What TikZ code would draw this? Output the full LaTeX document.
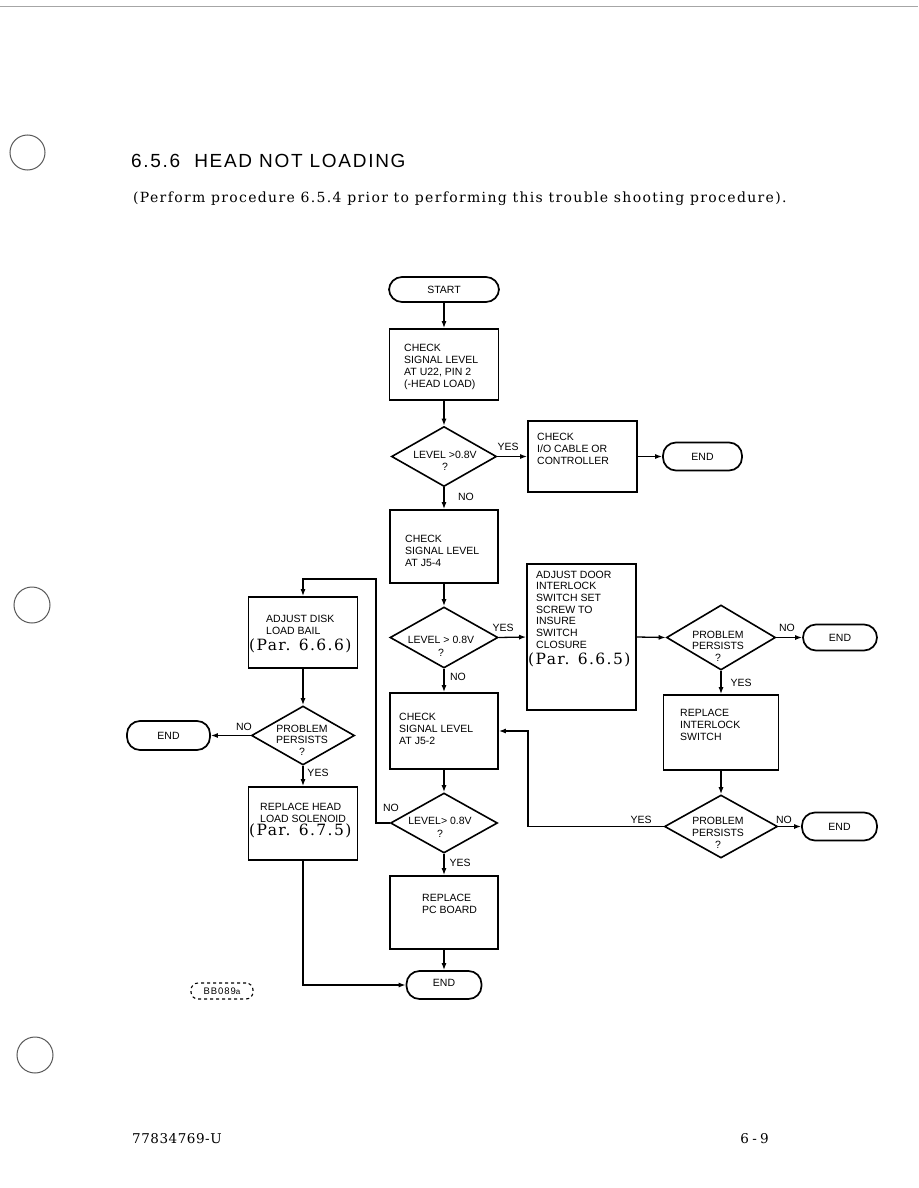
\documentclass[tikz,border=0pt]{standalone}
\usepackage{fontspec}
\usetikzlibrary{shapes.geometric,arrows.meta}
\setmainfont{DejaVu Serif}
\newfontfamily\fsans{Liberation Sans}
\newfontfamily\ftitle[LetterSpace=9]{Liberation Sans}
\newfontfamily\ftag[LetterSpace=10]{Liberation Sans}
\newfontfamily\fpar[LetterSpace=9]{DejaVu Serif}
\newfontfamily\fsub[LetterSpace=9.5]{DejaVu Serif}
\newfontfamily\fpg[LetterSpace=4]{DejaVu Serif}
\newfontfamily\fpgw[LetterSpace=25]{DejaVu Serif}
\tikzset{
 box/.style={draw, line width=1.7pt, inner sep=0pt, rectangle},
 term/.style={draw, line width=1.7pt, inner sep=0pt, rounded corners=13pt, font=\fsans\fontsize{10.5}{12}\selectfont},
 dia/.style={draw, diamond, line width=1.6pt, inner sep=0pt},
 txt/.style={font=\fsans\fontsize{10.5}{12}\selectfont, inner sep=0pt, align=left, anchor=north west},
 lbl/.style={font=\fsans\fontsize{10.5}{12}\selectfont, inner sep=0pt, anchor=base},
 arr/.style={line width=1.3pt, -{Latex[length=7pt,width=5pt]}},
 partxt/.style={font=\fpar\fontsize{15.5}{17}\selectfont, inner sep=0pt, anchor=base west},
 hole/.style={draw=black!65, line width=1pt},
}
\begin{document}
\begin{tikzpicture}[x=1pt,y=-1pt]
\useasboundingbox (0,0) rectangle (918,1188);
\fill[white] (0,0) rectangle (918,1188);
\draw[gray!70, line width=0.9pt] (0,6) -- (918,6);
\draw[hole] (27.5,152.5) circle (17.5pt);
\draw[hole] (32,605) circle (18pt);
\draw[hole] (35,1055) circle (18pt);
% heading
\node[font=\ftitle\fontsize{19}{21}\selectfont, anchor=base west, inner sep=0pt] (title) at (131,167) {6.5.6\ \ HEAD NOT LOADING};
\node[font=\fsub\fontsize{14}{16}\selectfont, anchor=base west, inner sep=0pt] (sub) at (133,202) {(Perform procedure 6.5.4 prior to performing this trouble shooting procedure).};
% centre column
\node[term, minimum width=110pt, minimum height=25pt] (start) at (444,289.5) {START};
\node[box, minimum width=109pt, minimum height=71pt] (b1) at (444,364.5) {};
\node[txt] (t1) at (404,343.5) {CHECK\\SIGNAL LEVEL\\AT U22, PIN 2\\(-HEAD LOAD)};
\node[dia, minimum width=105pt, minimum height=60pt] (d1) at (444,456.5) {};
\node[txt, align=center, anchor=north, font=\fsans\fontsize{10.5}{12.5}\selectfont] (td1) at (445,450.5) {LEVEL >0.8V\\?};
\node[lbl] (y1) at (508,450) {YES};
\node[box, minimum width=109pt, minimum height=71pt] (b2) at (582.5,456.5) {};
\node[txt] (t2) at (537,432.5) {CHECK\\I/O CABLE OR\\CONTROLLER};
\node[term, minimum width=79pt, minimum height=28pt] (e1) at (702.5,456.5) {END};
\node[lbl] (n1) at (466,500) {NO};
\node[box, minimum width=108pt, minimum height=73pt] (b3) at (444,546.5) {};
\node[txt] (t3) at (405,534.5) {CHECK\\SIGNAL LEVEL\\AT J5-4};
\node[dia, minimum width=108pt, minimum height=61pt] (d2) at (444,637.5) {};
\node[txt, align=center, anchor=north, font=\fsans\fontsize{10.5}{13}\selectfont] (td2) at (441,635.5) {LEVEL > 0.8V\\?};
\node[lbl] (y2) at (503,631) {YES};
\node[lbl] (n2) at (458,680) {NO};
\node[box, minimum width=109pt, minimum height=146pt] (b4) at (581.5,637) {};
\node[txt, font=\fsans\fontsize{10.5}{11.7}\selectfont] (t4) at (536,570.5) {ADJUST DOOR\\INTERLOCK\\SWITCH SET\\SCREW TO\\INSURE\\SWITCH\\CLOSURE};
\node[partxt] (p4) at (528,664) {(Par. 6.6.5)};
\node[dia, minimum width=109pt, minimum height=65pt] (d3) at (721,637.5) {};
\node[txt, align=center, anchor=north, font=\fsans\fontsize{10.5}{11.5}\selectfont] (td3) at (718,630.5) {PROBLEM\\PERSISTS\\?};
\node[lbl] (n3) at (787,631) {NO};
\node[term, minimum width=74pt, minimum height=26pt] (e2) at (840,637.5) {END};
\node[lbl] (y3) at (741,686) {YES};
\node[box, minimum width=115pt, minimum height=75pt] (b5) at (721,732.5) {};
\node[txt] (t5) at (680,708.5) {REPLACE\\INTERLOCK\\SWITCH};
\node[dia, minimum width=113pt, minimum height=63pt] (d4) at (721,826.5) {};
\node[txt, align=center, anchor=north, font=\fsans\fontsize{10.5}{12}\selectfont] (td4) at (718,816.5) {PROBLEM\\PERSISTS\\?};
\node[lbl] (n4) at (784,823) {NO};
\node[term, minimum width=75pt, minimum height=28pt] (e3) at (839.5,826.5) {END};
\node[lbl] (y4) at (641,823) {YES};
\node[box, minimum width=108pt, minimum height=76pt] (b6) at (444,731) {};
\node[txt] (t6) at (399,712.5) {CHECK\\SIGNAL LEVEL\\AT J5-2};
\node[dia, minimum width=107pt, minimum height=60pt] (d5) at (444,823) {};
\node[txt, align=center, anchor=north, font=\fsans\fontsize{10.5}{13}\selectfont] (td5) at (440,816.5) {LEVEL> 0.8V\\?};
\node[lbl] (n5) at (391,811) {NO};
\node[lbl] (y5) at (460,866) {YES};
\node[box, minimum width=108pt, minimum height=73pt] (b9) at (444,912.5) {};
\node[txt] (t9) at (422,893.5) {REPLACE\\PC BOARD};
\node[term, minimum width=75pt, minimum height=28pt] (e4) at (444,985) {\raisebox{4pt}{END}};
% left column
\node[box, minimum width=109pt, minimum height=71pt] (b7) at (303,632.5) {};
\node[txt] (t7) at (266,614.5) {ADJUST DISK\\LOAD BAIL};
\node[partxt] (p7) at (249,650) {(Par. 6.6.6)};
\node[dia, minimum width=103pt, minimum height=59pt] (d6) at (303,735.5) {};
\node[txt, align=center, anchor=north, font=\fsans\fontsize{10.5}{11.7}\selectfont] (td6) at (302,724.5) {PROBLEM\\PERSISTS\\?};
\node[lbl] (n6) at (244,730) {NO};
\node[term, minimum width=83pt, minimum height=29pt] (e5) at (168.5,735.5) {END};
\node[lbl] (y6) at (318,776) {YES};
\node[box, minimum width=109pt, minimum height=73pt] (b8) at (303,823.5) {};
\node[txt] (t8) at (260,802.5) {REPLACE HEAD\\LOAD SOLENOID};
\node[partxt] (p8) at (249,835) {(Par. 6.7.5)};
\node[draw, dashed, line width=1.1pt, rounded corners=7pt, minimum width=62pt, minimum height=16pt, inner sep=0pt, font=\ftag\fontsize{9.5}{10}\selectfont] (tag) at (222,991) {BB089{\fontsize{8}{9}\selectfont a}};
% footer
\node[font=\fpg\fontsize{13.5}{15}\selectfont, anchor=base west, inner sep=0pt] (f1) at (132,1143) {77834769-U};
\node[font=\fpgw\fontsize{13.5}{15}\selectfont, anchor=base east, inner sep=0pt] (f2) at (769,1143) {6-9};
% connectors
\draw[arr] (start.south) -- (b1.north);
\draw[arr] (b1.south) -- (d1.north);
\draw[arr] (d1.east) -- (b2.west);
\draw[arr] (b2.east) -- (e1.west);
\draw[arr] (d1.south) -- (b3.north);
\draw[arr] (b3.south) -- (d2.north);
\draw[arr] (d2.east) -- (b4.west);
\draw[arr] (b4.east) -- (d3.west);
\draw[arr] (d3.east) -- (e2.west);
\draw[arr] (d3.south) -- (b5.north);
\draw[arr] (b5.south) -- (d4.north);
\draw[arr] (d4.east) -- (e3.west);
\coordinate (c1) at (528,826.5);
\draw[arr] (d4.west) -- (c1) |- (b6.east);
\draw[arr] (d2.south) -- (b6.north);
\draw[arr] (b6.south) -- (d5.north);
\draw[arr] (d5.south) -- (b9.north);
\draw[arr] (b9.south) -- (e4.north);
\coordinate (c2) at (376,579);
\draw[arr] (d5.west) -| (c2) -| (b7.north);
\draw[arr] (b7.south) -- (d6.north);
\draw[arr] (d6.west) -- (e5.east);
\draw[arr] (d6.south) -- (b8.north);
\draw[arr] (b8.south) |- (e4.west);
\end{tikzpicture}
\end{document}
